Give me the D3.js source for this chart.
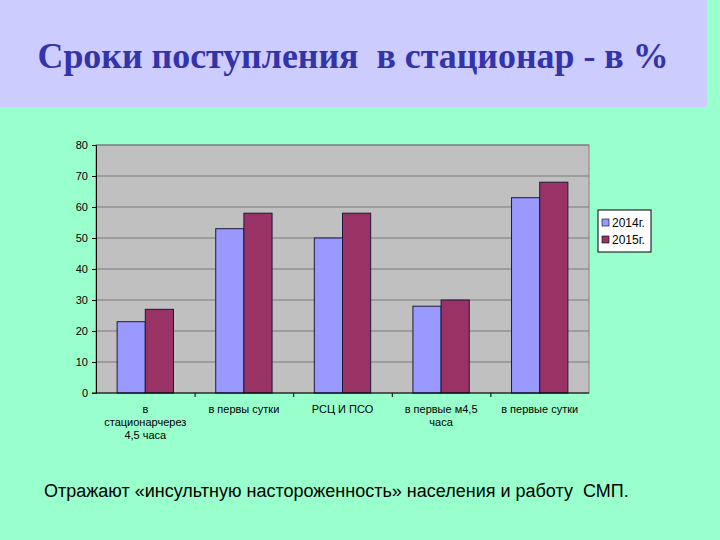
<!DOCTYPE html>
<html><head><meta charset="utf-8">
<script src="https://cdn.jsdelivr.net/npm/d3@7"></script>
<style>body{margin:0;background:#99FFCC;}svg{display:block}</style>
</head><body>
<script>
const categories = [["в","стационарчерез","4,5 часа"],["в первы сутки"],["РСЦ И ПСО"],["в первые м4,5","часа"],["в первые сутки"]];
const seriesNames = ["2014г.","2015г."];
const values2014 = [23,53,50,28,63];
const values2015 = [27,58,58,30,68];
const yTicks = [0,10,20,30,40,50,60,70,80];
const colors = ["#9999FF","#993366"];

const W=720,H=540;
const svg=d3.select("body").append("svg").attr("width",W).attr("height",H);
svg.append("rect").attr("width",W).attr("height",H).attr("fill","#99FFCC");
svg.append("rect").attr("x",0).attr("y",0).attr("width",707).attr("height",107).attr("fill","#CCCCFF");
svg.append("text").attr("x",353).attr("y",68).attr("text-anchor","middle")
  .attr("font-family","'Liberation Serif','Times New Roman',serif").attr("font-weight","bold")
  .attr("font-size",36).attr("fill","#3333AA").attr("xml:space","preserve")
  .attr("textLength",631).attr("lengthAdjust","spacingAndGlyphs")
  .text("Сроки поступления  в стационар - в %");

const L=96,R=589,T=145,B=393;
const idx=d3.range(categories.length);
const x=d3.scaleBand().domain(idx).range([L,R]).paddingInner(0).paddingOuter(0);
const y=d3.scaleLinear().domain([0,80]).range([B,T]);
const g=svg.append("g");
g.append("rect").attr("x",L).attr("y",T).attr("width",R-L).attr("height",B-T).attr("fill","#C0C0C0").attr("stroke","#808080").attr("stroke-width",1);
g.selectAll(".grid").data(yTicks.slice(1)).join("line")
  .attr("x1",L).attr("x2",R).attr("y1",d=>y(d)).attr("y2",d=>y(d))
  .attr("stroke","#7a7a7a").attr("stroke-width",1);

const inner=d3.scaleBand().domain([0,1]).range([0,x.bandwidth()]).paddingInner(0).paddingOuter(0.75);
const series=[values2014,values2015];
series.forEach((vals,si)=>{
  g.selectAll(".b"+si).data(vals).join("rect")
   .attr("x",(d,i)=>x(i)+inner(si)).attr("width",inner.bandwidth())
   .attr("y",d=>y(d)).attr("height",d=>B-y(d))
   .attr("fill",colors[si]).attr("stroke","#1a1a3a").attr("stroke-width",1);
});

const ya=d3.axisLeft(y).tickValues(yTicks).tickSize(4).tickPadding(4);
const yg=svg.append("g").attr("transform",`translate(${L},0)`).call(ya);
yg.select(".domain").attr("stroke","#000");
yg.selectAll("text").attr("font-family","Arial,'Liberation Sans',sans-serif").attr("font-size",11).attr("fill","#000");

const bx=d3.scaleLinear().domain([0,categories.length]).range([L,R]);
const xg=svg.append("g").attr("transform",`translate(0,${B})`);
xg.call(d3.axisBottom(bx).tickValues(d3.range(1,categories.length)).tickSize(4).tickFormat(""));
xg.select(".domain").attr("d",`M${L-4},0H${R}`).attr("stroke","#000");

const lab=svg.append("g");
categories.forEach((lines,i)=>{
  const t=lab.append("text").attr("x",x(i)+x.bandwidth()/2).attr("y",413)
    .attr("text-anchor","middle").attr("font-family","Arial,'Liberation Sans',sans-serif").attr("font-size",11).attr("fill","#000");
  lines.forEach((ln,j)=>t.append("tspan").attr("x",x(i)+x.bandwidth()/2).attr("dy",j?13:0).text(ln));
});

const lgx=598,lgy=210;
svg.append("rect").attr("x",lgx).attr("y",lgy).attr("width",53).attr("height",42).attr("fill","#fff").attr("stroke","#000");
seriesNames.forEach((n,i)=>{
  svg.append("rect").attr("x",lgx+4).attr("y",lgy+9+i*17).attr("width",7).attr("height",7).attr("fill",colors[i]).attr("stroke","#000").attr("stroke-width",0.6);
  svg.append("text").attr("x",lgx+14).attr("y",lgy+17+i*17).attr("font-family","Arial,'Liberation Sans',sans-serif").attr("font-size",12).text(n);
});

svg.append("text").attr("x",44).attr("y",497).attr("font-family","Arial,'Liberation Sans',sans-serif").attr("font-size",18).attr("fill","#000").attr("xml:space","preserve")
  .text("Отражают «инсультную настороженность» населения и работу  СМП.");
</script>
</body></html>
